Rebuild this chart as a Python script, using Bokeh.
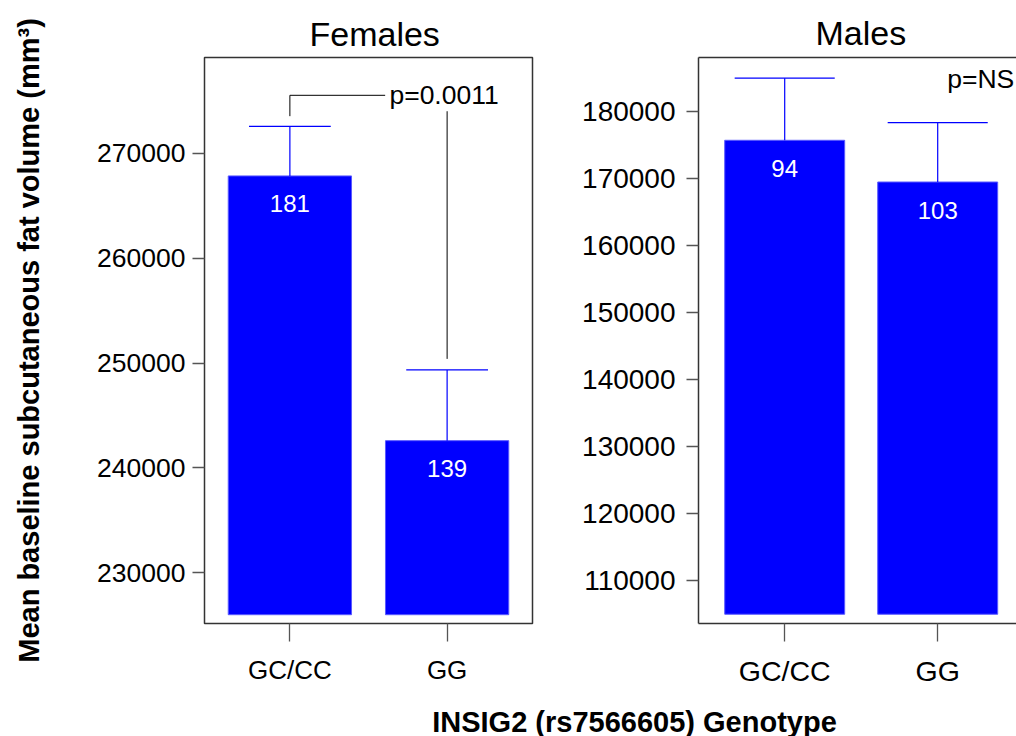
from bokeh.plotting import figure
from bokeh.models import Range1d, FixedTicker, LinearAxis, BasicTickFormatter
from bokeh.layouts import row, column
from bokeh.embed import file_html
from bokeh.resources import INLINE
from bokeh.core.properties import value

# ---------------- data ----------------
genotypes = ["GC/CC", "GG"]
female_mean = [267850, 242600]
female_se = [4730, 6750]
female_n = [181, 139]
male_mean = [175770, 169540]
male_se = [9270, 8880]
male_n = [94, 103]
female_p = "p=0.0011"
male_p = "p=NS"
female_yticks = [230000, 240000, 250000, 260000, 270000]
male_yticks = [110000, 120000, 130000, 140000, 150000, 160000, 170000, 180000]
y_label = "Mean baseline subcutaneous fat volume (mm³)"
x_label = "INSIG2 (rs7566605) Genotype"

FONT = "Liberation Sans"
BLUE = "#0000FF"
BOX = "#333333"
xpos = [1, 2]
BAR_W = 0.784


def panel(title, means, ses, ns, yticks, yrange, xrange, base, width, borders,
          cap_half, tick_font, xtick_font, tick_standoff, title_offset, title_standoff):
    p = figure(width=width, height=700, x_range=Range1d(*xrange), y_range=Range1d(*yrange),
               output_backend="svg", toolbar_location=None,
               min_border_left=borders[0], min_border_right=borders[1],
               min_border_top=borders[2], min_border_bottom=borders[3])
    p.grid.visible = False
    p.background_fill_color = "white"
    p.border_fill_color = "white"
    p.vbar(x=xpos, top=means, bottom=base, width=BAR_W, fill_color=BLUE,
           line_color="#5a5aff", line_width=1)
    upper = [m + s for m, s in zip(means, ses)]
    p.segment(x0=xpos, y0=means, x1=xpos, y1=upper, line_color=BLUE, line_width=1.2)
    p.segment(x0=[x - cap_half for x in xpos], y0=upper,
              x1=[x + cap_half for x in xpos], y1=upper, line_color=BLUE, line_width=1.2)
    p.text(x=xpos, y=means, text=[str(n) for n in ns], text_color="white",
           text_font=value(FONT), text_font_size="24px", text_align="center",
           text_baseline="middle", y_offset=28)

    p.title.text = title
    p.title.text_font = FONT
    p.title.text_font_size = "34px"
    p.title.text_font_style = "normal"
    p.title.text_color = "black"
    p.title.align = "left"
    p.title.offset = title_offset
    p.title.standoff = title_standoff

    for ax in p.yaxis:
        ax.ticker = FixedTicker(ticks=yticks)
        ax.formatter = BasicTickFormatter(use_scientific=False)
        ax.major_tick_out = 12
        ax.major_tick_in = 0
        ax.minor_tick_line_color = None
        ax.major_tick_line_color = "#555555"
        ax.major_tick_line_width = 1.3
        ax.major_label_standoff = tick_standoff
        ax.major_label_text_font = FONT
        ax.major_label_text_font_size = tick_font
        ax.major_label_text_color = "black"
    for ax in p.xaxis:
        ax.ticker = FixedTicker(ticks=xpos)
        ax.major_label_overrides = {x: g for x, g in zip(xpos, genotypes)}
        ax.major_tick_out = 18
        ax.major_tick_in = 0
        ax.minor_tick_line_color = None
        ax.major_tick_line_color = "#555555"
        ax.major_tick_line_width = 1.3
        ax.major_label_standoff = 13
        ax.major_label_text_font = FONT
        ax.major_label_text_font_size = xtick_font
        ax.major_label_text_color = "black"
    return p, upper


# ---------------- shared y label (own narrow canvas, centred lower like R) ----------------
p0 = figure(width=60, height=700, x_range=Range1d(0, 1), y_range=Range1d(0, 1),
            output_backend="svg", toolbar_location=None, x_axis_type=None,
            min_border_left=44, min_border_right=0, min_border_top=10, min_border_bottom=0,
            outline_line_color=None)
p0.grid.visible = False
p0.yaxis.ticker = FixedTicker(ticks=[])
p0.yaxis.axis_line_color = None
p0.yaxis.major_tick_line_color = None
p0.yaxis.minor_tick_line_color = None
p0.yaxis.major_tick_out = 0
p0.yaxis.major_label_standoff = 0
p0.yaxis.major_label_text_font_size = "0px"
p0.yaxis.axis_label = y_label
p0.yaxis.axis_label_text_font = FONT
p0.yaxis.axis_label_text_font_size = "29px"
p0.yaxis.axis_label_text_font_style = "bold"
p0.yaxis.axis_label_text_color = "black"
p0.yaxis.axis_label_standoff = 0

# ---------------- Females ----------------
p1, up1 = panel("Females", female_mean, female_se, female_n, female_yticks,
                (225161, 279146), (0.457, 2.543), 226000, 488, (144, 16, 54, 77),
                0.26, "26.5px", "26px", 7, 105, 10)
p1.outline_line_color = BOX
p1.outline_line_width = 1.5
p1.xaxis.axis_line_color = None
p1.yaxis.axis_line_color = None

bracket_y = up1[0] + 2960
p1.line(x=[xpos[0], xpos[0], 1.606], y=[up1[0] + 970, bracket_y, bracket_y],
        line_color="black", line_width=1)
p1.segment(x0=[xpos[1]], y0=[bracket_y - 1520], x1=[xpos[1]], y1=[up1[1] + 1050],
           line_color="black", line_width=1)
p1.text(x=[1.633], y=[bracket_y], text=[female_p], text_font=value(FONT),
        text_font_size="26.5px", text_align="left", text_baseline="middle", text_color="black")

# ---------------- Males ----------------
p2, up2 = panel("Males", male_mean, male_se, male_n, male_yticks,
                (103617, 188132), (0.4366, 2.515), 105000, 468, (150, 0, 57, 77),
                0.327, "28px", "28.5px", 11, 117, 11)
p2.outline_line_color = None
p2.xaxis.axis_line_color = BOX
p2.xaxis.axis_line_width = 1.5
p2.yaxis.axis_line_color = BOX
p2.yaxis.axis_line_width = 1.5
top_ax = LinearAxis(major_tick_line_color=None, minor_tick_line_color=None,
                    major_label_text_font_size="0px", axis_line_color=BOX,
                    axis_line_width=1.5, major_label_standoff=0)
top_ax.ticker = FixedTicker(ticks=[])
p2.add_layout(top_ax, "above")
p2.text(x=[2.062], y=[184890], text=[male_p], text_font=value(FONT),
        text_font_size="26.5px", text_align="left", text_baseline="middle", text_color="black")

# ---------------- shared x label ----------------
p3 = figure(width=1016, height=36, x_range=Range1d(0, 1016), y_range=Range1d(0, 36),
            output_backend="svg", toolbar_location=None, x_axis_type=None, y_axis_type=None,
            min_border=0, outline_line_color=None)
p3.grid.visible = False
p3.text(x=[634], y=[31], text=[x_label], text_font=value(FONT), text_font_size="29px",
        text_font_style="bold", text_align="center", text_baseline="top", text_color="black")

layout = column(row(p0, p1, p2), p3)
open("out.html", "w").write(file_html(layout, INLINE))
